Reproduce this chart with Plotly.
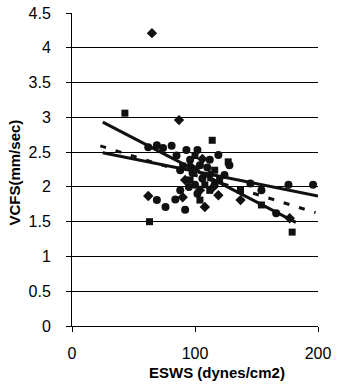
import plotly.graph_objects as go

# Data
diamond_x = [65, 87, 62, 177, 108, 92, 100, 104, 112, 119, 137, 96, 106, 90, 115]
diamond_y = [4.21, 2.96, 1.87, 1.55, 1.71, 2.10, 2.24, 1.95, 2.17, 1.88, 1.81, 2.30, 2.40, 1.85, 2.00]

circle_x = [62, 69, 74, 81, 93, 102, 119, 69, 76, 84, 92, 145, 154, 166, 196, 176,
            88, 96, 104, 112, 124, 128, 100, 116, 88, 85, 98, 106, 110, 95, 102]
circle_y = [2.57, 2.60, 2.56, 2.59, 2.53, 2.53, 2.46, 1.81, 1.71, 1.82, 1.67, 2.05, 1.95, 1.62, 2.03, 2.03,
            2.24, 2.39, 2.31, 2.39, 2.17, 2.31, 2.03, 2.03, 1.95, 2.45, 2.20, 2.12, 2.28, 2.00, 1.90]

square_x = [43, 63, 127, 179, 114, 96, 108, 116, 104, 137, 154, 90, 100, 112, 120]
square_y = [3.06, 1.50, 2.36, 1.35, 2.67, 2.10, 2.03, 2.24, 1.81, 1.95, 1.74, 2.30, 2.45, 1.95, 2.10]

fit1_x = [25, 182]
fit1_y = [2.93, 1.49]
fit2_x = [25, 200]
fit2_y = [2.49, 1.87]
fit3_x = [23, 198]
fit3_y = [2.59, 1.63]

y_ticks = [0, 0.5, 1, 1.5, 2, 2.5, 3, 3.5, 4, 4.5]
y_tick_labels = ["0", "0.5", "1", "1.5", "2", "2.5", "3", "3.5", "4", "4.5"]
x_ticks = [0, 100, 200]

INK = "#111111"
fig = go.Figure()
fig.add_trace(go.Scatter(x=circle_x, y=circle_y, mode="markers",
                         marker=dict(symbol="circle", size=8, color=INK)))
fig.add_trace(go.Scatter(x=square_x, y=square_y, mode="markers",
                         marker=dict(symbol="square", size=7, color=INK)))
fig.add_trace(go.Scatter(x=diamond_x, y=diamond_y, mode="markers",
                         marker=dict(symbol="diamond", size=8, color=INK)))
fig.add_trace(go.Scatter(x=fit1_x, y=fit1_y, mode="lines", line=dict(color=INK, width=3)))
fig.add_trace(go.Scatter(x=fit2_x, y=fit2_y, mode="lines", line=dict(color=INK, width=3)))
fig.add_trace(go.Scatter(x=fit3_x, y=fit3_y, mode="lines", line=dict(color=INK, width=3, dash="6px,10px")))

fig.update_layout(
    width=339, height=385,
    margin=dict(l=72, r=21, t=13, b=59, autoexpand=False),
    paper_bgcolor="white", plot_bgcolor="white",
    showlegend=False,
    font=dict(family="Liberation Sans, Arial, sans-serif", color="#000", size=16),
    annotations=[
        dict(text="<b>ESWS (dynes/cm2)</b>", xref="paper", yref="paper", x=0.59, y=-0.147,
             xanchor="center", yanchor="middle", showarrow=False, font=dict(size=15)),
        dict(text="<b>VCFS(mm/sec)</b>", xref="paper", yref="paper", x=-0.232, y=0.49,
             xanchor="center", yanchor="middle", textangle=-90, showarrow=False, font=dict(size=15)),
    ],
)
fig.update_xaxes(range=[0, 200], tickvals=x_ticks, showgrid=False, zeroline=False,
                 showline=True, linecolor="#000", linewidth=1, automargin=False,
                 ticks="outside", ticklen=5, tickcolor="#000", ticklabelstandoff=8)
fig.update_yaxes(range=[0, 4.5], tickvals=y_ticks, ticktext=y_tick_labels,
                 showgrid=True, gridcolor="#000", gridwidth=1, zeroline=False,
                 showline=True, linecolor="#000", linewidth=1, automargin=False,
                 ticks="outside", ticklen=5, tickcolor="#000", ticklabelstandoff=12)

fig.write_html("out.html", config={"displayModeBar": False},
               post_script="document.body.style.margin='0';")
